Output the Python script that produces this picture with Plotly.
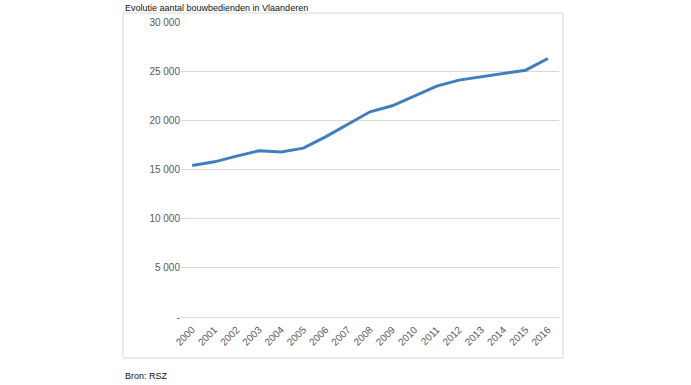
import plotly.graph_objects as go

years = [str(y) for y in range(2000, 2017)]
employees = [15400, 15780, 16360, 16900, 16770, 17170, 18320, 19580, 20870,
             21480, 22460, 23480, 24090, 24420, 24700, 25100, 26290]
y_tickvals = [0, 5000, 10000, 15000, 20000, 25000, 30000]
y_ticktext = ["-", "5 000", "10 000", "15 000", "20 000", "25 000", "30 000"]
title_text = "Evolutie aantal bouwbedienden in Vlaanderen"
source_text = "Bron: RSZ"

FONT = "Arial, Liberation Sans, sans-serif"

fig = go.Figure()
fig.add_trace(go.Scatter(
    x=years, y=employees, mode="lines",
    line=dict(color="#3f7fc0", width=3),
    hoverinfo="x+y", showlegend=False,
))

W, H = 691, 385
L, R, T, B = 181, 559, 22, 318
pw, ph = R - L, B - T

def px(x):
    return (x - L) / pw

def py(y):
    return (B - y) / ph

fig.update_layout(
    width=W, height=H,
    margin=dict(l=L, r=W - R, t=T, b=H - B, autoexpand=False),
    paper_bgcolor="white", plot_bgcolor="white",
    font=dict(family=FONT, color="#595959", size=10),
    xaxis=dict(
        type="category", range=[-0.5, len(years) - 0.5],
        tickangle=-45, showgrid=False, showline=False, zeroline=False,
        ticks="", tickfont=dict(size=10, color="#595959"), automargin=False,
        ticklabelstandoff=3,
    ),
    yaxis=dict(
        range=[-100, 30000], tickvals=y_tickvals, ticktext=y_ticktext,
        showgrid=True, gridcolor="#d9d9d9", gridwidth=1,
        zeroline=True, zerolinecolor="#d9d9d9", zerolinewidth=1,
        showline=False, ticks="", automargin=False,
        tickfont=dict(size=10, color="#595959"),
    ),
    shapes=[dict(
        type="rect", xref="paper", yref="paper",
        x0=px(123), x1=px(563), y0=py(358), y1=py(13),
        line=dict(color="#d9d9d9", width=1), fillcolor="rgba(0,0,0,0)",
        layer="below",
    )],
    annotations=[
        dict(text=title_text, xref="paper", yref="paper",
             x=px(123), y=py(7.5), xanchor="left", yanchor="middle",
             showarrow=False, font=dict(family=FONT, size=9, color="#111111")),
        dict(text=source_text, xref="paper", yref="paper",
             x=px(123), y=py(376), xanchor="left", yanchor="middle",
             showarrow=False, font=dict(family=FONT, size=9, color="#111111")),
    ],
)

fig.write_html(
    "out.html",
    config={"displayModeBar": False},
    post_script="document.body.style.margin='0';document.body.style.overflow='hidden';",
)
